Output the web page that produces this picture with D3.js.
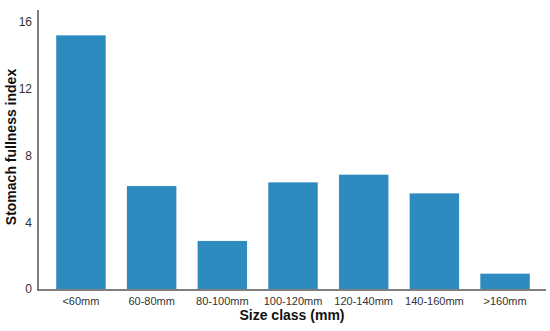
<!DOCTYPE html>
<html>
<head>
<meta charset="utf-8">
<script src="https://cdn.jsdelivr.net/npm/d3@7"></script>
<style>
  body { margin: 0; background: #fff; }
  svg { font-family: "Liberation Sans", Arial, sans-serif; }
</style>
</head>
<body>
<svg width="550" height="331"></svg>
<script>
  // data
  var categories = ['<60mm', '60-80mm', '80-100mm', '100-120mm', '120-140mm', '140-160mm', '>160mm'];
  var values = [15.2, 6.17, 2.88, 6.39, 6.85, 5.73, 0.92];
  var yTicks = [0, 4, 8, 12, 16];

  var svg = d3.select('svg');

  var x = d3.scaleBand().domain(categories).range([35, 551]).paddingInner(0.3).paddingOuter(0.3);
  var y = d3.scaleLinear().domain([0, 16]).range([289, 22]);

  // bars
  svg.selectAll('rect.bar').data(values).enter().append('rect')
    .attr('class', 'bar')
    .attr('x', function(d, i) { return x(categories[i]); })
    .attr('y', function(d) { return y(d); })
    .attr('width', x.bandwidth())
    .attr('height', function(d) { return y(0) - y(d); })
    .attr('fill', '#2e8bc0');

  // y axis
  var yAxis = svg.append('g').attr('transform', 'translate(38,0)')
    .call(d3.axisLeft(y).tickValues(yTicks).tickSize(0).tickPadding(6));
  yAxis.select('.domain').remove();
  yAxis.selectAll('text').attr('font-size', 12).attr('fill', '#333').attr('font-family', '"Liberation Sans", Arial, sans-serif');
  svg.append('line').attr('x1', 38).attr('x2', 38).attr('y1', 10).attr('y2', 290)
    .attr('stroke', '#555').attr('stroke-width', 1.5);

  // x axis
  var xAxis = svg.append('g').attr('transform', 'translate(0,290)')
    .call(d3.axisBottom(x).tickSize(0).tickPadding(7));
  xAxis.select('.domain').remove();
  xAxis.selectAll('text').attr('font-size', 11).attr('fill', '#333').attr('font-family', '"Liberation Sans", Arial, sans-serif');
  svg.append('line').attr('x1', 37).attr('x2', 546).attr('y1', 290).attr('y2', 290)
    .attr('stroke', '#555').attr('stroke-width', 1.5);

  // axis titles
  svg.append('text').attr('x', 292).attr('y', 320).attr('text-anchor', 'middle')
    .attr('font-size', 14).attr('font-weight', 'bold').attr('fill', '#111')
    .text('Size class (mm)');
  svg.append('text').attr('transform', 'translate(16,147) rotate(-90)').attr('text-anchor', 'middle')
    .attr('font-size', 14).attr('font-weight', 'bold').attr('fill', '#111')
    .text('Stomach fullness index');
</script>
</body>
</html>
